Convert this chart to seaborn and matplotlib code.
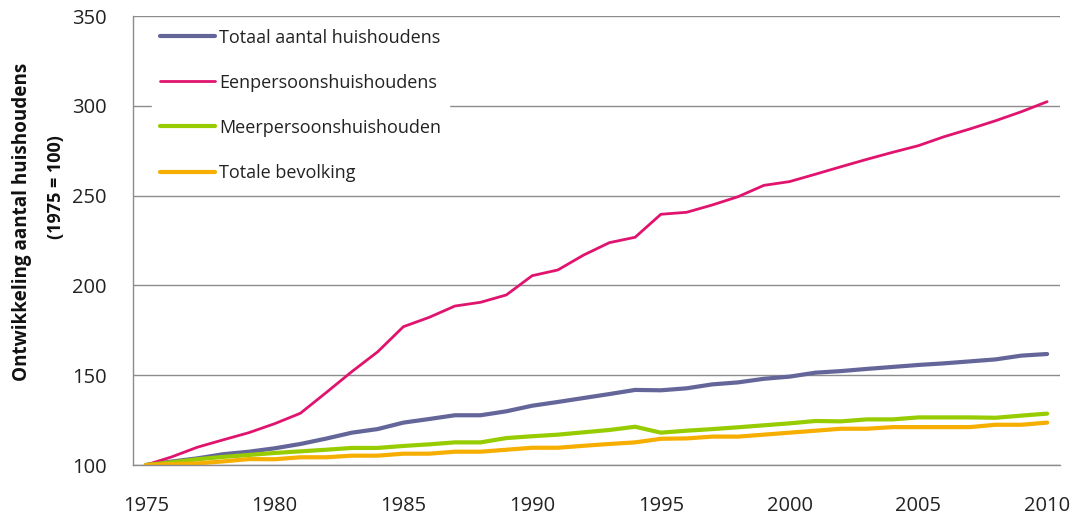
import matplotlib
matplotlib.use("Agg")
import matplotlib.pyplot as plt
import numpy as np
import pandas as pd
import seaborn as sns

years = list(range(1975, 2011))

totaal = [100, 101.9, 103.7, 106.0, 107.4, 109.3, 111.7, 114.7, 118.0, 120.0,
          123.6, 125.6, 127.7, 127.7, 129.9, 133.0, 135.1, 137.3, 139.5, 141.8,
          141.6, 142.7, 144.9, 146.0, 148.0, 149.2, 151.4, 152.3, 153.5, 154.6,
          155.7, 156.6, 157.7, 158.8, 160.9, 161.8]
eenpersoons = [100, 104.5, 109.9, 114.0, 118.0, 123.0, 128.8, 140.3, 152.0, 163.0,
               177.0, 182.2, 188.5, 190.6, 194.7, 205.4, 208.6, 216.9, 223.8, 226.8,
               239.6, 240.7, 244.8, 249.4, 255.7, 257.8, 261.9, 266.1, 270.2, 274.1,
               277.8, 282.8, 287.1, 291.7, 296.7, 302.3]
meerpersoons = [100, 101.5, 103.2, 104.5, 105.6, 106.7, 107.6, 108.5, 109.5, 109.5,
                110.6, 111.5, 112.6, 112.6, 115.0, 116.0, 116.9, 118.2, 119.5, 121.3,
                118.0, 119.1, 120.0, 121.0, 122.1, 123.2, 124.5, 124.3, 125.4, 125.4,
                126.5, 126.5, 126.5, 126.3, 127.5, 128.6]
bevolking = [100, 100.5, 100.9, 102.0, 103.3, 103.2, 104.3, 104.3, 105.2, 105.2,
             106.3, 106.3, 107.4, 107.4, 108.5, 109.6, 109.6, 110.7, 111.7, 112.6,
             114.6, 114.8, 115.8, 115.8, 116.9, 118.0, 119.1, 120.2, 120.2, 121.1,
             121.1, 121.1, 121.1, 122.4, 122.4, 123.6]

series_names = ["Totaal aantal huishoudens", "Eenpersoonshuishoudens",
                "Meerpersoonshuishouden", "Totale bevolking"]
series_values = [totaal, eenpersoons, meerpersoons, bevolking]
colors = ["#64669a", "#e0146e", "#96cc00", "#f6ae00"]
widths = [3.0, 2.0, 3.0, 3.0]

df = pd.concat([pd.DataFrame({"jaar": years, "waarde": v, "reeks": n})
                for n, v in zip(series_names, series_values)])

sns.set_style("white")
plt.rcParams["font.family"] = ["Open Sans", "DejaVu Sans"]
grid_col = "#8c8c8c"

fig = plt.figure(figsize=(10.76, 5.16), dpi=100)
ax = fig.add_axes([133 / 1076, 1 - 465 / 516, 927 / 1076, 449 / 516])

for name, col, lw in zip(series_names, colors, widths):
    sns.lineplot(data=df[df["reeks"] == name], x="jaar", y="waarde",
                 color=col, linewidth=lw, label=name, ax=ax)

ax.set_xlim(1974.5, 2010.5)
ax.set_ylim(100, 350)
ax.set_yticks(range(100, 351, 50))
ax.yaxis.grid(True, color=grid_col, linewidth=1.0)
ax.set_axisbelow(True)

ax.set_xticks(range(1975, 2011, 5))
ax.set_xticks(np.arange(1974.5, 2011, 1), minor=True)
ax.tick_params(axis="x", which="major", length=0, pad=22, labelsize=14.5,
               labelcolor="#222222")
ax.tick_params(axis="x", which="minor", length=7, width=1, color=grid_col, direction="out")
ax.tick_params(axis="y", length=7, width=1, color=grid_col, direction="out",
               pad=12, labelsize=14.5, labelcolor="#222222")

for s in ["top", "right"]:
    ax.spines[s].set_visible(False)
for s in ["left", "bottom"]:
    ax.spines[s].set_color(grid_col)
    ax.spines[s].set_linewidth(1.0)

ax.set_xlabel("")
ax.set_ylabel("")

leg = ax.legend(loc="upper left", bbox_to_anchor=(0.02, 0.99), frameon=True,
                fancybox=False, framealpha=1, edgecolor="white", facecolor="white",
                fontsize=13, handlelength=3.05, handletextpad=0.25,
                labelspacing=1.5, borderpad=0.45, borderaxespad=0)
for t in leg.get_texts():
    t.set_color("#222222")

fig.text(22 / 1076, 1 - 222 / 516, "Ontwikkeling aantal huishoudens", rotation=90,
         ha="center", va="center", fontsize=13.6, fontweight="bold", color="#111111")
fig.text(56 / 1076, 1 - 187 / 516, "(1975 = 100)", rotation=90,
         ha="center", va="center", fontsize=13, fontweight="bold", color="#111111")

fig.savefig("out.png", dpi=100)
